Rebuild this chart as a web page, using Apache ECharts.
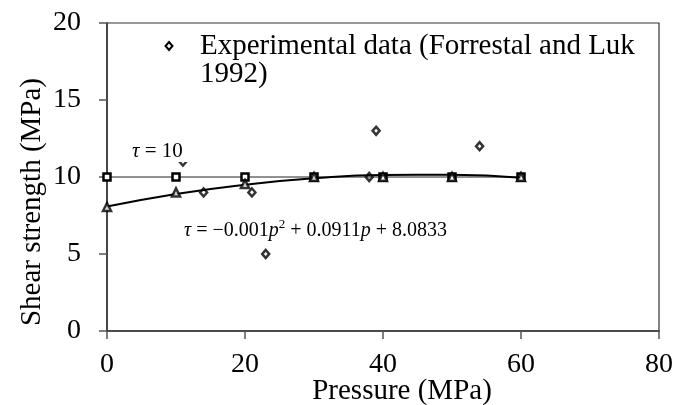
<!DOCTYPE html>
<html>
<head>
<meta charset="utf-8">
<script src="https://cdn.jsdelivr.net/npm/echarts@6/dist/echarts.min.js"></script>
<style>html,body{margin:0;padding:0;background:#fff}#c{width:686px;height:405px}</style>
</head>
<body>
<div id="c"></div>
<script>
// ---- data ----
var xTicks = [0, 20, 40, 60, 80];
var yTicks = [0, 5, 10, 15, 20];
var constP = [0, 10, 20, 30, 40, 50, 60];
var constTau = [10, 10, 10, 10, 10, 10, 10];
var modelP = [0, 10, 20, 30, 40, 50, 60];
var modelTau = [8.05, 9.0, 9.55, 10.0, 10.0, 10.0, 10.0];
var fitP = [0, 10, 20, 30, 40, 50, 60];
var fitTau = [8.08, 8.9, 9.5, 9.92, 10.13, 10.14, 9.95];
var expP = [11, 14, 21, 23, 38, 39, 54];
var expTau = [11, 9, 9, 5, 10, 13, 12];
var legendText = 'Experimental data (Forrestal and Luk\n1992)';
var xName = 'Pressure (MPa)';
var yName = 'Shear strength (MPa)';

function pairs(xs, ys) { return xs.map(function (x, i) { return [x, ys[i]]; }); }

var FONT = "'Liberation Serif', 'Times New Roman', serif";
var chart = echarts.init(document.getElementById('c'));
var axisCol = '#333';

chart.setOption({
  animation: false,
  backgroundColor: '#fff',
  grid: { left: 107, right: 27, top: 23, bottom: 74, show: true, borderColor: axisCol, borderWidth: 1.2, containLabel: false },
  xAxis: {
    type: 'value', min: xTicks[0], max: xTicks[xTicks.length - 1], interval: 20,
    axisLine: { show: true, lineStyle: { color: axisCol, width: 1.5 } },
    axisTick: { show: true, inside: false, length: 8, lineStyle: { color: '#555', width: 1.5 } },
    axisLabel: { margin: 20, color: '#000', fontFamily: FONT, fontSize: 28 },
    splitLine: { show: false }
  },
  yAxis: {
    type: 'value', min: yTicks[0], max: yTicks[yTicks.length - 1], interval: 5,
    axisLine: { show: true, lineStyle: { color: axisCol, width: 1.5 } },
    axisTick: { show: true, inside: false, length: 8, lineStyle: { color: '#555', width: 1.5 } },
    axisLabel: { margin: 26, color: '#000', fontFamily: FONT, fontSize: 28 },
    splitLine: { show: false }
  },
  series: [
    {
      name: 'tau10', type: 'line', data: pairs(constP, constTau),
      symbol: 'rect', symbolSize: 7,
      itemStyle: { color: '#fff', borderColor: '#000', borderWidth: 2.5 },
      lineStyle: { color: '#222', width: 1 }, z: 3
    },
    {
      name: 'fit', type: 'line', data: pairs(fitP, fitTau), smooth: 0.5,
      symbol: 'none', lineStyle: { color: '#000', width: 2 }, z: 4
    },
    {
      name: 'model', type: 'scatter', data: pairs(modelP, modelTau),
      symbol: 'triangle', symbolSize: 8,
      itemStyle: { color: '#fff', borderColor: '#000', borderWidth: 2.5 }, z: 5
    },
    {
      name: 'Experimental data', type: 'scatter', data: pairs(expP, expTau),
      symbol: 'diamond', symbolSize: [7, 8],
      itemStyle: { color: '#fff', borderColor: '#000', borderWidth: 2.5 }, z: 2
    }
  ],
  graphic: [
    { type: 'text', rotation: Math.PI / 2, position: [32, 202], z: 10,
      style: { text: yName, font: '29px ' + FONT, fill: '#000', textAlign: 'center', textVerticalAlign: 'middle' } },
    { type: 'text', position: [402, 391], z: 10,
      style: { text: xName, font: '29px ' + FONT, fill: '#000', textAlign: 'center', textVerticalAlign: 'middle' } },
    { type: 'polygon', shape: { points: [[169, 42], [172.5, 46], [169, 50], [165.5, 46]] },
      style: { fill: '#fff', stroke: '#000', lineWidth: 2 }, z: 10 },
    { type: 'text', position: [200, 32], z: 10,
      style: { text: legendText, font: '29px ' + FONT, fill: '#000', lineHeight: 28 } },
    { type: 'text', position: [129, 141], z: 10,
      style: {
        rich: { i: { fontFamily: FONT, fontSize: 21, fontStyle: 'italic', fill: '#000' },
                n: { fontFamily: FONT, fontSize: 21, fill: '#000' } },
        text: '{i|τ}{n| = 10 }', backgroundColor: '#fff', padding: [0, 3, 0, 3]
      } },
    { type: 'text', position: [184, 218], z: 10,
      style: {
        rich: { i: { fontFamily: FONT, fontSize: 20, fontStyle: 'italic', fill: '#000', lineHeight: 26 },
                n: { fontFamily: FONT, fontSize: 20, fill: '#000', lineHeight: 26 },
                s: { fontFamily: FONT, fontSize: 13, fill: '#000', lineHeight: 26, verticalAlign: 'top' } },
        text: '{i|τ}{n| = −0.001}{i|p}{s|2}{n| + 0.0911}{i|p}{n| + 8.0833}'
      } }
  ]
});
</script>
</body>
</html>
